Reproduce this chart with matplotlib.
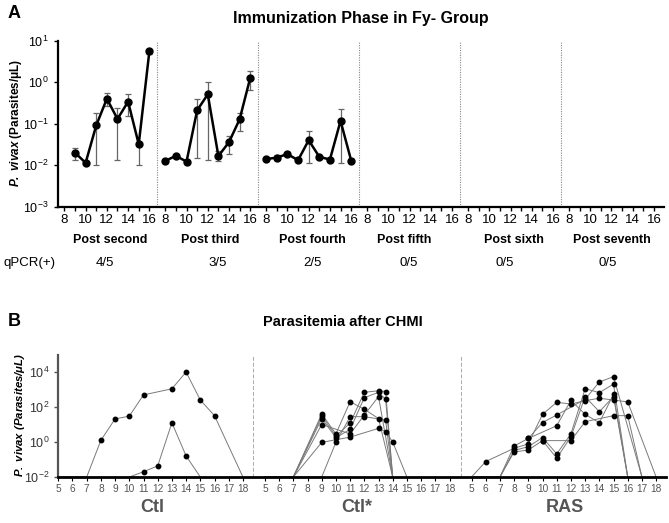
import matplotlib
matplotlib.use("Agg")
import matplotlib.pyplot as plt
import numpy as np

plt.rcParams['font.family'] = ['Liberation Sans', 'DejaVu Sans']
plt.rcParams['mathtext.fontset'] = 'custom'
plt.rcParams['mathtext.rm'] = 'Liberation Sans'
plt.rcParams['mathtext.it'] = 'Liberation Sans:italic'
plt.rcParams['mathtext.bf'] = 'Liberation Sans:bold'
plt.rcParams['mathtext.bfit'] = 'Liberation Sans:italic:bold'

# ---------------- Panel A data ----------------
phase_labels = ["Post second", "Post third", "Post fourth", "Post fifth", "Post sixth", "Post seventh"]
qpcr_labels = ["4/5", "3/5", "2/5", "0/5", "0/5", "0/5"]

second_days = [9, 10, 11, 12, 13, 14, 15, 16]
second_mean = [0.020, 0.0114, 0.091, 0.40, 0.13, 0.34, 0.032, 5.5]
second_lo = [0.0137, 0.0110, 0.010, 0.26, 0.0132, 0.155, 0.010, 4.8]
second_hi = [0.026, 0.0118, 0.178, 0.55, 0.235, 0.51, 0.032, 6.3]

third_days = [8, 9, 10, 11, 12, 13, 14, 15, 16]
third_mean = [0.0127, 0.0168, 0.0122, 0.21, 0.51, 0.0166, 0.036, 0.128, 1.28]
third_lo = [0.0125, 0.0160, 0.0112, 0.015, 0.0137, 0.0128, 0.019, 0.068, 0.66]
third_hi = [0.0130, 0.0176, 0.0132, 0.40, 1.0, 0.022, 0.051, 0.178, 1.9]

fourth_days = [8, 9, 10, 11, 12, 13, 14, 15, 16]
fourth_mean = [0.014, 0.0153, 0.0185, 0.0132, 0.040, 0.0159, 0.0137, 0.117, 0.0129]
fourth_lo = [0.0138, 0.0134, 0.0180, 0.0130, 0.011, 0.0155, 0.0135, 0.011, 0.0118]
fourth_hi = [0.0142, 0.0175, 0.0190, 0.0134, 0.068, 0.0163, 0.0139, 0.23, 0.0142]

# ---------------- Panel B data ----------------
group_labels = ["Ctl", "Ctl*", "RAS"]
day_ticks = list(range(5, 19))

ctl_days = [[5, 6, 7, 8, 9, 10, 11, 13, 14, 15, 16, 18],
            [10, 11, 12, 13, 14, 15]]
ctl_vals = [[0, 0, 0, 1.25, 21, 30, 490, 1100, 10000, 250, 32, 0],
            [0, 0.02, 0.043, 12.5, 0.16, 0]]

ctlx_days = [[5, 7, 9, 10, 11, 12, 13, 14],
             [5, 7, 9, 10, 11, 12, 13, 13.5, 14],
             [5, 7, 9, 10, 11, 12, 13, 13.5, 14],
             [5, 7, 9, 11, 12, 13, 14],
             [5, 7, 9, 11, 13, 13.5, 14, 15],
             [5, 9, 10, 11, 12, 13.5, 14]]
ctlx_vals = [[0, 0, 40, 2.9, 200, 74, 22, 0],
             [0, 0, 31, 2.2, 12, 690, 850, 760, 0],
             [0, 0, 22, 1.8, 5.2, 340, 690, 275, 0],
             [0, 0, 10, 2.9, 35, 390, 0],
             [0, 0, 0.95, 1.9, 6.0, 3.9, 1.0, 0],
             [0, 0, 0.95, 28, 28, 18, 0]]

ras_days = [[5, 6, 8, 9, 10, 11, 12, 13, 14, 15, 16, 18],
            [5, 7, 8, 9, 10, 11, 13, 14, 15, 17],
            [5, 7, 8, 9, 10, 11, 12, 13, 14, 15, 16],
            [5, 7, 8, 9, 10, 11, 12, 13, 14, 15, 16],
            [9, 11, 12, 13, 14, 15, 16],
            [10, 12, 13, 15, 16, 17]]
ras_vals = [[0, 0.076, 0.44, 0.78, 38, 186, 148, 230, 316, 250, 195, 0],
            [0, 0, 0.59, 1.6, 13, 35, 275, 2700, 5400, 0],
            [0, 0, 0.33, 0.54, 1.8, 0.21, 2.9, 1120, 660, 2040, 0],
            [0, 0, 0.27, 0.35, 1.2, 0.12, 2.0, 390, 54, 390, 0],
            [1.6, 8.5, 240, 38, 12.6, 525, 0],
            [1.2, 1.2, 14.5, 32, 32, 0]]

W, H = 669, 523
fig = plt.figure(figsize=(W / 100, H / 100), dpi=100)

def fx(px):
    return px / W

def fy(py):
    return 1 - py / H

# ================= Panel A =================
period = 9.5
axA = fig.add_axes([fx(58), fy(206.7), fx(664) - fx(58), fy(40.7) - fy(206.7)])
axA.set_yscale('log')
axA.set_ylim(1e-3, 10)
axA.set_xlim(7.4, 64.45)

series = [(second_days, second_mean, second_lo, second_hi),
          (third_days, third_mean, third_lo, third_hi),
          (fourth_days, fourth_mean, fourth_lo, fourth_hi)]
for g, (d, m, lo, hi) in enumerate(series):
    x = np.array(d) + period * g
    m = np.array(m)
    yerr = np.vstack([m - np.array(lo), np.array(hi) - m])
    axA.errorbar(x, m, yerr=yerr, fmt='none', ecolor='#666666', elinewidth=0.9,
                 capsize=2.5, capthick=0.9, zorder=2)
    axA.plot(x, m, color='black', lw=1.8, marker='o', ms=5, zorder=3)

for g in range(5):
    axA.axvline(16.75 + period * g, color='#888888', lw=0.8, ls=(0, (1, 1.2)), zorder=1)

maj = []
mino = []
labs = []
for g in range(6):
    for d in range(8, 17):
        if d % 2 == 0:
            maj.append(d + period * g)
            labs.append(str(d))
        else:
            mino.append(d + period * g)
axA.set_xticks(maj)
axA.set_xticklabels(labs)
axA.set_xticks(mino, minor=True)
axA.tick_params(axis='x', which='both', length=3, width=1, labelsize=9.5, pad=2)
axA.tick_params(axis='y', which='major', length=3, width=1, labelsize=9)
axA.tick_params(axis='y', which='minor', length=0)
axA.set_yticks([1e-3, 1e-2, 1e-1, 1e0, 1e1])
for s in ['top', 'right']:
    axA.spines[s].set_visible(False)
axA.spines['left'].set_linewidth(1.6)
axA.spines['bottom'].set_linewidth(1.6)
axA.set_ylabel(r'$\mathbfit{P.\ vivax}$ (Parasites/μL)', fontsize=8.5, fontweight='bold')
axA.yaxis.set_label_coords(-0.056, 0.504)

fig.text(fx(8), fy(14), "A", fontsize=13, fontweight='bold', ha='left', va='center')
fig.text(fx(361), fy(18), "Immunization Phase in Fy- Group", fontsize=11.5,
         fontweight='bold', ha='center', va='center')
phase_x = [110, 210, 312, 404, 514, 612]
for lab, px in zip(phase_labels, phase_x):
    fig.text(fx(px), fy(240), lab, fontsize=9, fontweight='bold', ha='center', va='center')
qpcr_x = [105, 218, 313, 409, 505, 608]
fig.text(fx(4), fy(263), "qPCR(+)", fontsize=9.5, ha='left', va='center')
for lab, px in zip(qpcr_labels, qpcr_x):
    fig.text(fx(px), fy(263), lab, fontsize=9.5, ha='center', va='center')

# ================= Panel B =================
offsets = [0, 14.55, 29.1]
floor = 1e-2
axB = fig.add_axes([fx(58.3), fy(477), fx(666) - fx(58.3), fy(354.5) - fy(477)])
axB.set_yscale('log')
axB.set_ylim(floor, 1e5)
axB.set_xlim(5, 5 + (666 - 58.3) / 14.2)

for off, dsets, vsets in zip(offsets, [ctl_days, ctlx_days, ras_days], [ctl_vals, ctlx_vals, ras_vals]):
    for d, v in zip(dsets, vsets):
        x = np.array(d, dtype=float) + off
        v = np.array(v, dtype=float)
        yv = np.where(v > 0, v, floor)
        axB.plot(x, yv, color='#7a7a7a', lw=0.7, zorder=2, clip_on=True)
        pos = v > 0
        axB.plot(x[pos], v[pos], ls='none', marker='o', ms=3.2, color='black', zorder=3)

for xd in [18.72, 33.35]:
    axB.axvline(xd, color='#aaaaaa', lw=0.7, ls=(0, (4, 2)), zorder=1)

bt = []
bl = []
for off in offsets:
    for d in day_ticks:
        bt.append(d + off)
        bl.append(str(d))
axB.set_xticks(bt)
axB.set_xticklabels(bl)
axB.tick_params(axis='x', length=3, width=0.8, labelsize=7.3, labelcolor='#555555', pad=2)
axB.set_yticks([1e-2, 1e0, 1e2, 1e4])
axB.tick_params(axis='y', which='major', length=3, width=1, labelsize=9, labelcolor='#333333', color='#555555')
axB.tick_params(axis='y', which='minor', length=0)
for s in ['top', 'right']:
    axB.spines[s].set_visible(False)
axB.spines['left'].set_linewidth(1.6)
axB.spines['left'].set_color('#555555')
axB.spines['bottom'].set_linewidth(2.0)
axB.set_ylabel(r'$\mathbfit{P.\ vivax\ (Parasites/μL)}$', fontsize=8.2)
axB.yaxis.set_label_coords(-0.0515, 0.506)

fig.text(fx(8), fy(322), "B", fontsize=13, fontweight='bold', ha='left', va='center')
fig.text(fx(343), fy(322), "Parasitemia after CHMI", fontsize=10.5,
         fontweight='bold', ha='center', va='center')
grp_x = [152, 357, 565]
for lab, px in zip(group_labels, grp_x):
    fig.text(fx(px), fy(508), lab, fontsize=13, fontweight='bold', color='#555555',
             ha='center', va='center')

fig.savefig("out.png", dpi=100)
